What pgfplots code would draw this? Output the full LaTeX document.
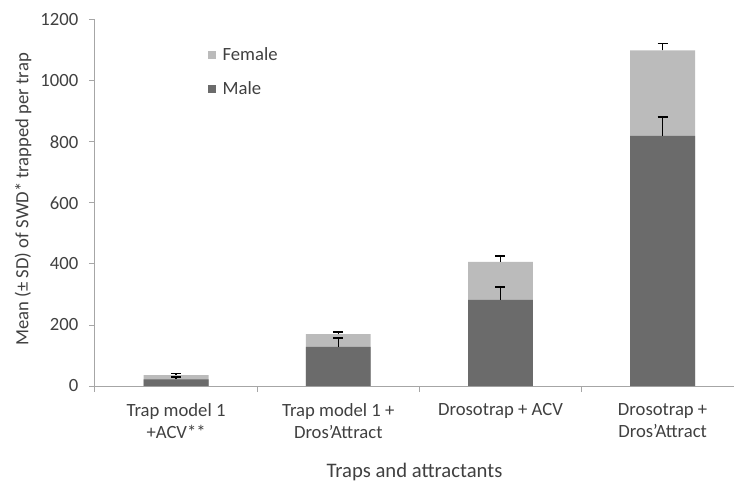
\documentclass[border=0pt]{standalone}
\usepackage{fontspec}
\setmainfont{Carlito}
\usepackage{pgfplots}
\usepackage{pgfplotstable}
\pgfplotsset{compat=1.18}
\definecolor{fem}{HTML}{BBBBBB}
\definecolor{mal}{HTML}{6B6B6B}
\definecolor{axgray}{HTML}{A6A6A6}
\definecolor{txt}{HTML}{404040}
\newcommand\lbl{\fontsize{14}{16.5}\selectfont}
\newcommand\xlbl{\fontsize{15.5}{18}\selectfont}
\pgfplotsset{sqlegend/.style={legend image code/.code={\fill[##1] (0pt,-3pt) rectangle (6pt,3pt); \path (9pt,0pt);}}}
\pgfplotstableread{
x m me t te
0 22 8 36 4
1 128 29 170 7
2 282 43 407 19
3 820 62 1100 22
}\data
\begin{document}
\begin{tikzpicture}
\begin{axis}[
  scale only axis, width=479.25pt, height=274.5pt,
  xmin=-0.5, xmax=3.44, ymin=0, ymax=1200,
  axis x line*=bottom, axis y line*=left,
  axis line style={axgray, line width=0.75pt},
  tick style={axgray, line width=0.75pt},
  tick align=outside, major tick length=4.5pt,
  ytick={0,200,...,1200},
  yticklabel style={font=\lbl, text=txt, xshift=-4.5pt, /pgf/number format/.cd, assume math mode=true, 1000 sep={}},
  xtick={-0.5,0.5,1.5,2.5},
  xticklabels={},
  extra x ticks={0,1,2,3},
  extra x tick labels={{Trap model 1\\+ACV**},{Trap model 1 +\\Dros'Attract},{Drosotrap + ACV},{Drosotrap +\\Dros'Attract}},
  extra x tick style={major tick length=0pt},
  xticklabel style={font=\lbl, text=txt, align=center, anchor=north, yshift=-9.5pt},
  xlabel={Traps and attractants},
  xlabel style={font=\xlbl, text=txt, at={(axis description cs:0.5,-0.234)}, anchor=center},
  ylabel={Mean (± SD) of SWD* trapped per trap},
  ylabel style={font=\lbl, text=txt, at={(axis description cs:-0.1127,0.51)}, anchor=center},
  legend style={at={(rel axis cs:0,1)}, anchor=north west, xshift=81.5pt, yshift=-16.5pt,
    draw=none, fill=none, font=\lbl, text=txt, row sep=10pt},
  legend cell align=left,
]
\addplot[ybar, bar width=0.4, fill=fem, draw=none, sqlegend,
  error bars/.cd, y dir=plus, y explicit,
  error bar style={black, line width=1pt},
  error mark options={black, rotate=90, mark size=3.75pt, line width=1pt}]
  table[x=x, y=t, y error=te] {\data};
\addlegendentry{Female}
\addplot[ybar, bar width=0.4, fill=mal, draw=none, sqlegend,
  error bars/.cd, y dir=plus, y explicit,
  error bar style={black, line width=1pt},
  error mark options={black, rotate=90, mark size=3.75pt, line width=1pt}]
  table[x=x, y=m, y error=me] {\data};
\addlegendentry{Male}
\end{axis}
\pgfresetboundingbox
\path[use as bounding box] (-71.25pt,-71.25pt) rectangle (479.25pt,289.5pt);
\end{tikzpicture}
\end{document}
